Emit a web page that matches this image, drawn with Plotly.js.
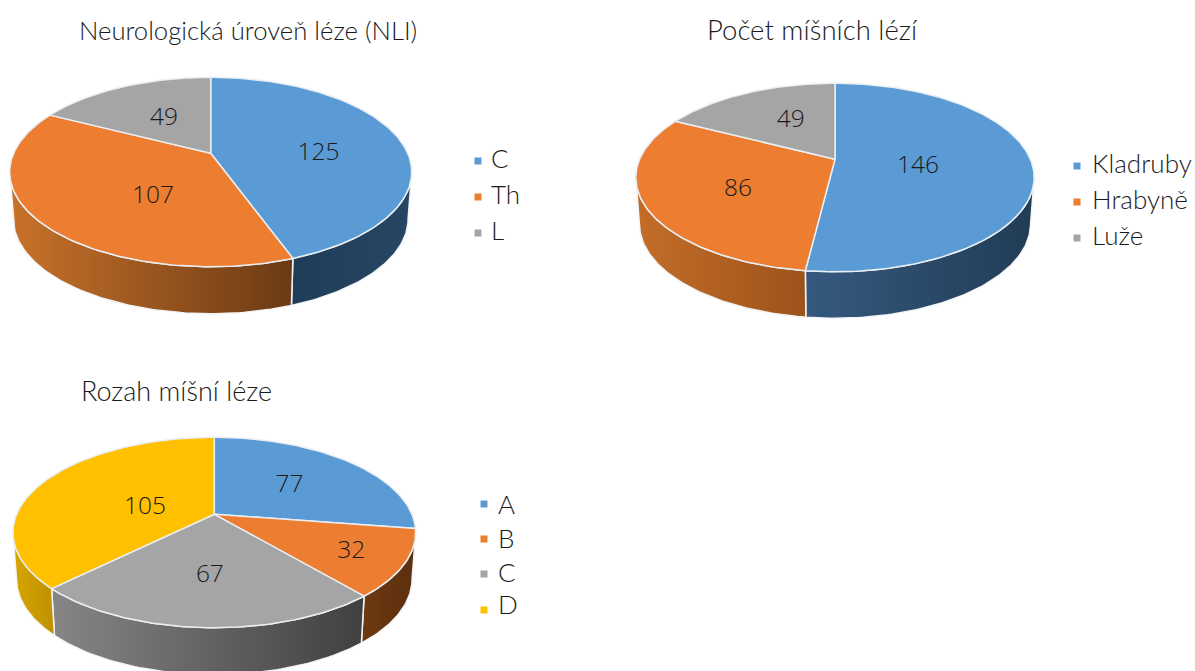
<!DOCTYPE html>
<html lang="cs">
<head>
<meta charset="utf-8">
<title>Míšní léze</title>
<script src="https://cdn.plot.ly/plotly-3.0.1.min.js"></script>
<style>html,body{margin:0;padding:0;background:#fff;overflow:hidden}#chart{width:1195px;height:671px}</style>
</head>
<body>
<div id="chart"></div>
<script>
// Chart values
const levelTitle = 'Neurologická úroveň léze (NLI)';
const levelCategories = ['C', 'Th', 'L'];
const levelValues = [125, 107, 49];

const lesionTitle = 'Počet míšních lézí';
const lesionCategories = ['Kladruby', 'Hrabyně', 'Luže'];
const lesionValues = [146, 86, 49];

const extentTitle = 'Rozah míšní léze';
const extentCategories = ['A', 'B', 'C', 'D'];
const extentValues = [77, 32, 67, 105];

// Slice colours and the shaded colours of the outer wall, left to right
const BLUE = '#5B9BD5', ORANGE = '#ED7D31', GRAY = '#A5A5A5', YELLOW = '#FFC000';
const FONT = 'Lato, "Open Sans", sans-serif';
const VALUE_FONT = '"Open Sans", "Noto Sans", sans-serif';
const KEY_SIZE = 26, VALUE_SIZE = 24.5;
const TEXT = '#1A1A1A';

// The lower wall edge sits slightly further from the viewer than the top rim
const WALL_TAPER = 0.982;

// Tilted discs: hub, top/bottom/left/right rim extents and wall height, in page pixels
const pies = [
  {
    title: levelTitle, categories: levelCategories, values: levelValues,
    hub: [210.7, 153.3], top: 77.3, bottom: 266.7, left: 10.7, right: 412.7, wall: 47,
    colors: [BLUE, ORANGE, GRAY],
    walls: [['#1F3D59', '#264664'], ['#C8722A', '#6B3A14'], ['#808080', '#808080']],
    nudges: [[3, 9], [30, 8], [5, 5]],
    titlePos: [77, 30], titleSize: 25.7, legendMarkX: 478, legendTextX: 491,
    legendMarkY: [161, 197, 233], legendTextY: [161, 197, 233]
  },
  {
    title: lesionTitle, categories: lesionCategories, values: lesionValues,
    hub: [835, 159.3], top: 83.3, bottom: 271.7, left: 636, right: 1034.3, wall: 46.5,
    colors: [BLUE, ORANGE, GRAY],
    walls: [['#35597F', '#213C55'], ['#C46D28', '#9C531B'], ['#808080', '#808080']],
    nudges: [[-25, 4], [3, 6.5], [7, 1]],
    titlePos: [705, 29], titleSize: 27.5, legendMarkX: 1077, legendTextX: 1092,
    legendMarkY: [166, 202, 238], legendTextY: [166, 202, 238]
  },
  {
    title: extentTitle, categories: extentCategories, values: extentValues,
    hub: [214.3, 514.3], top: 437.3, bottom: 627.7, left: 13.3, right: 416, wall: 47,
    colors: [BLUE, ORANGE, GRAY, YELLOW],
    walls: [['#26496B', '#26496B'], ['#6E3A12', '#5C2F0E'], ['#868686', '#404040'], ['#D8A600', '#BE9000']],
    nudges: [[-2, 2], [37, 12], [1, 5], [27, 12.5]],
    titlePos: [79, 390], titleSize: 27, legendMarkX: 484, legendTextX: 498,
    legendMarkY: [504, 539, 574, 610], legendTextY: [507, 541, 575, 607]
  }
];

// Perspective projection of the unit disc onto the page, with the far rim shorter than the near rim
function makeProjection(pie) {
  const far = pie.hub[1] - pie.top, near = pie.bottom - pie.hub[1];
  const p = (near - far) / (near + far);
  const ry = near * (1 - p);
  const rx = (pie.right - pie.left) / 2 * Math.sqrt(1 - p * p);
  const project = (radius, deg) => {
    const a = deg * Math.PI / 180;
    const u = radius * Math.sin(a), v = -radius * Math.cos(a), w = 1 - p * v;
    return [pie.hub[0] + rx * u / w, pie.hub[1] + ry * v / w];
  };
  const frontStart = Math.acos(-p) * 180 / Math.PI;
  return { project, frontStart, frontEnd: 360 - frontStart };
}

function arcAngles(from, to) {
  const out = [];
  for (let d = from; d < to; d += 1) out.push(d);
  out.push(to);
  return out;
}

const sideTraces = [], topTraces = [], textTraces = [];
const annotations = [];

pies.forEach(pie => {
  const { project, frontStart, frontEnd } = makeProjection(pie);
  const total = pie.values.reduce((s, v) => s + v, 0);
  const labelX = [], labelY = [];
  let start = 0;

  pie.values.forEach((value, i) => {
    const end = start + value / total * 360;
    const rim = arcAngles(start, end).map(d => project(1, d));

    // Slice of the top face
    const hub = project(0, 0);
    const face = [hub, ...rim, hub];
    topTraces.push({
      type: 'scatter', mode: 'lines', name: pie.categories[i],
      x: face.map(q => q[0]), y: face.map(q => q[1]),
      fill: 'toself', fillcolor: pie.colors[i],
      line: { color: '#E9EEF3', width: 1.5 }, hoverinfo: 'name'
    });

    // Visible part of the outer wall
    const a = Math.max(start, frontStart), b = Math.min(end, frontEnd);
    if (b > a) {
      const edge = arcAngles(a, b).map(d => project(1, d));
      const lower = edge.slice().reverse().map(q => [
        pie.hub[0] + (q[0] - pie.hub[0]) * WALL_TAPER,
        q[1] + pie.wall
      ]);
      const wall = [...edge, ...lower, edge[0]];
      const xs = wall.map(q => q[0]);
      sideTraces.push({
        type: 'scatter', mode: 'lines', name: pie.categories[i],
        x: xs, y: wall.map(q => q[1]),
        fill: 'toself',
        fillgradient: {
          type: 'horizontal',
          colorscale: [[0, pie.walls[i][0]], [1, pie.walls[i][1]]],
          start: Math.min(...xs), stop: Math.max(...xs)
        },
        line: { color: '#F2F4F6', width: 1.5 }, hoverinfo: 'skip'
      });
    }

    // Value label placed along the middle of the slice
    const mid = project(0.55, (start + end) / 2);
    labelX.push(mid[0] + pie.nudges[i][0]);
    labelY.push(mid[1] + pie.nudges[i][1]);
    start = end;
  });

  textTraces.push({
    type: 'scatter', mode: 'text', x: labelX, y: labelY,
    text: pie.values.map(String), textposition: 'middle center',
    textfont: { family: VALUE_FONT, size: VALUE_SIZE, color: TEXT, weight: 300 }, hoverinfo: 'skip'
  });

  // Key beside the disc
  textTraces.push({
    type: 'scatter', mode: 'markers',
    x: pie.categories.map(() => pie.legendMarkX), y: pie.legendMarkY,
    marker: { symbol: 'square', size: 7, color: pie.colors }, hoverinfo: 'skip'
  });
  textTraces.push({
    type: 'scatter', mode: 'text',
    x: pie.categories.map(() => pie.legendTextX), y: pie.legendTextY,
    text: pie.categories, textposition: 'middle right',
    textfont: { family: FONT, size: KEY_SIZE, color: TEXT, weight: 300 }, hoverinfo: 'skip'
  });

  annotations.push({
    xref: 'x', yref: 'y', x: pie.titlePos[0], y: pie.titlePos[1],
    xanchor: 'left', yanchor: 'middle', showarrow: false, text: pie.title,
    font: { family: FONT, size: pie.titleSize, color: TEXT, weight: 300 }
  });
});

const layout = {
  width: 1195, height: 671,
  margin: { l: 0, r: 0, t: 0, b: 0 },
  paper_bgcolor: '#ffffff', plot_bgcolor: '#ffffff',
  showlegend: false,
  xaxis: { range: [0, 1195], visible: false, fixedrange: true },
  yaxis: { range: [671, 0], visible: false, fixedrange: true },
  annotations
};

Plotly.newPlot('chart', [...sideTraces, ...topTraces, ...textTraces], layout, { displayModeBar: false, staticPlot: true });
</script>
</body>
</html>
